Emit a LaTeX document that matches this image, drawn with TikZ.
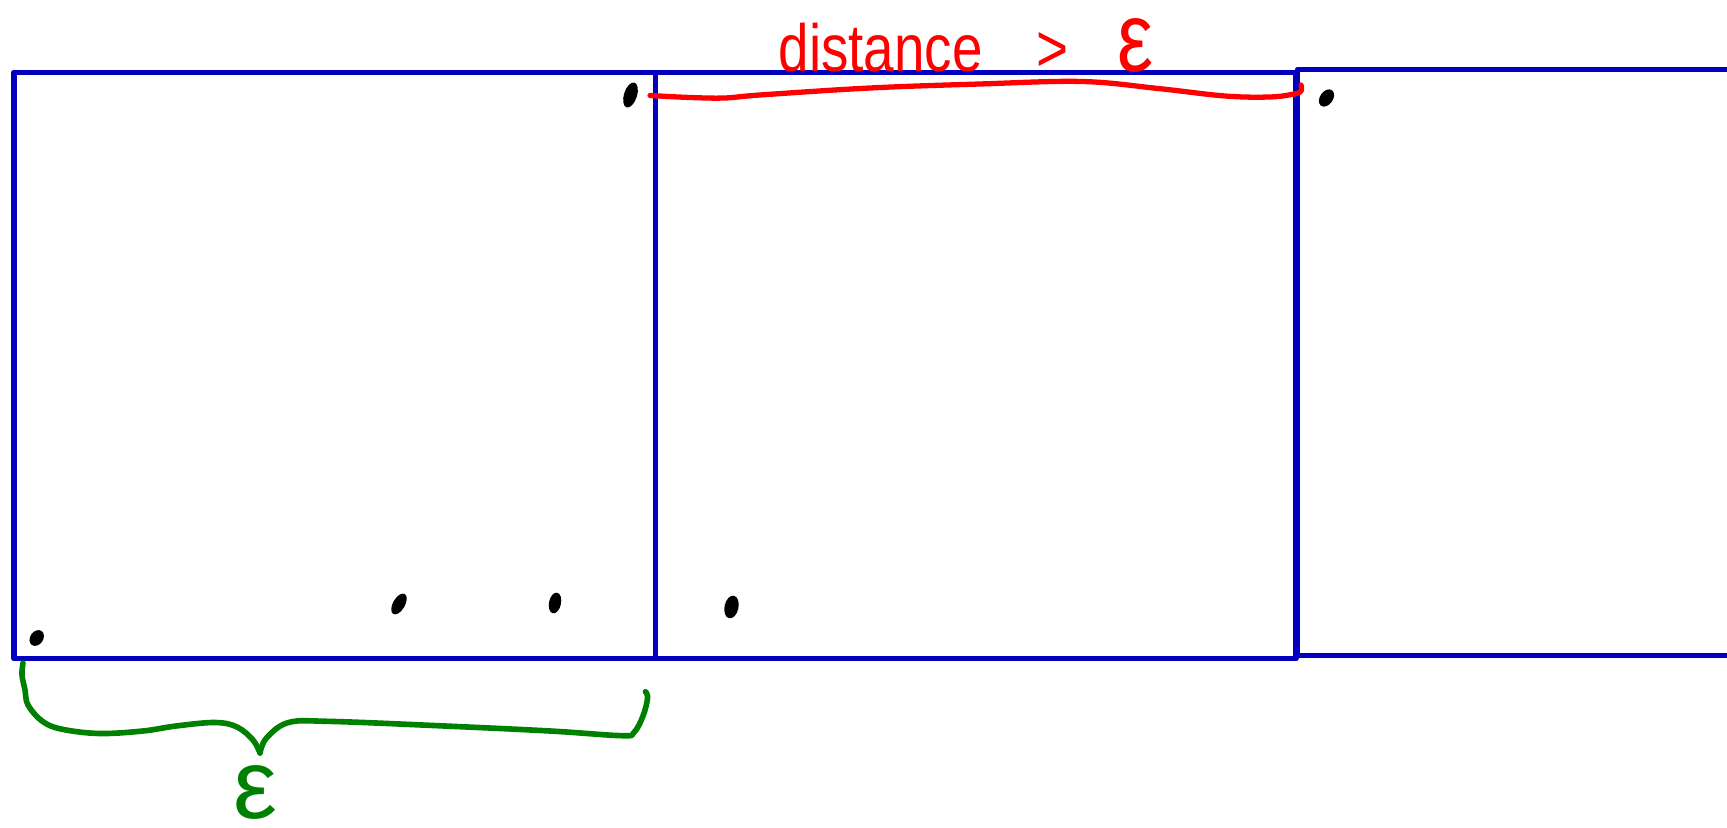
\documentclass[tikz,border=0pt]{standalone}
\usepackage{fontspec}
\setmainfont{Liberation Sans}
\usepackage{graphicx}
\usetikzlibrary{shapes,positioning}
\definecolor{boxblue}{RGB}{0,0,190}
\definecolor{markred}{RGB}{255,0,0}
\definecolor{markgreen}{RGB}{0,128,0}

\begin{document}
\begin{tikzpicture}[
    x=0.01cm, y=-0.01cm,
    line join=round, line cap=round,
    cell/.style={draw=boxblue, line width=1.6pt},
    redline/.style={draw=markred, line width=1.5pt},
    greenline/.style={draw=markgreen, line width=1.6pt},
    blob/.style={ellipse, fill=black, inner sep=0pt, minimum width=0.13cm, minimum height=0.22cm},
    note/.style={inner sep=0pt, font=\fontsize{19}{22}\selectfont}
  ]
  \useasboundingbox (0,0) rectangle (1727,828);
  % Cells
  \draw [cell] (14,72.5) rectangle (655.5,658.5);
  \draw [cell] (655.5,72.5) rectangle (1296,658.5);
  \draw [cell] (1740,69.5) -| (1297.5,655.5) -- (1740,655.5);
  % Points
  \node [blob, minimum height=0.17cm, rotate=-35] (p1) at (36.7,638) {};
  \node [blob, minimum width=0.12cm, minimum height=0.23cm, rotate=-30] (p2) at (399,604) {};
  \node [blob, minimum width=0.12cm, minimum height=0.21cm, rotate=-12] (p3) at (555,603) {};
  \node [blob, minimum width=0.14cm, minimum height=0.23cm, rotate=-12] (p4) at (731.5,607) {};
  \node [blob, minimum height=0.26cm, rotate=-18] (p5) at (630.5,95) {};
  \node [blob, minimum height=0.19cm, rotate=-35] (p6) at (1326.5,98) {};
  % Labels
  \node [note, text=markred, anchor=base west] (dist) at (778,71.5)
    {\scalebox{0.82}[1]{distance\hspace{0.65cm}>\hspace{0.6cm}{\fontsize{28}{28}\selectfont ε}}};
  \node [note, text=markgreen, anchor=base, font=\fontsize{28}{28}\selectfont] (eps) at (255,818) {ε};
  % Braces
  \draw [redline] plot [smooth, tension=0.6] coordinates {(650,95.5) (690,97.5) (725,98) (760,95)
    (870,88) (980,84) (1082,81.5) (1158,88.5) (1225,96) (1270,97) (1294,94) (1301,91) (1301,85)};
  \draw [greenline] plot [smooth, tension=0.6] coordinates {(23,663) (22,675) (25,690) (28,705)
    (42,721) (61,729) (99,733.5) (143,731) (176,726) (215,722.5) (237,727) (253,740) (260,753)};
  \draw [greenline] plot [smooth, tension=0.6] coordinates {(260,753) (266.5,738) (288.6,722.5)
    (330,721.4) (440,725.8) (550,731) (622,735.7) (634,732.4) (643,716) (647.6,698) (645.4,691.7)};
\end{tikzpicture}
\end{document}
